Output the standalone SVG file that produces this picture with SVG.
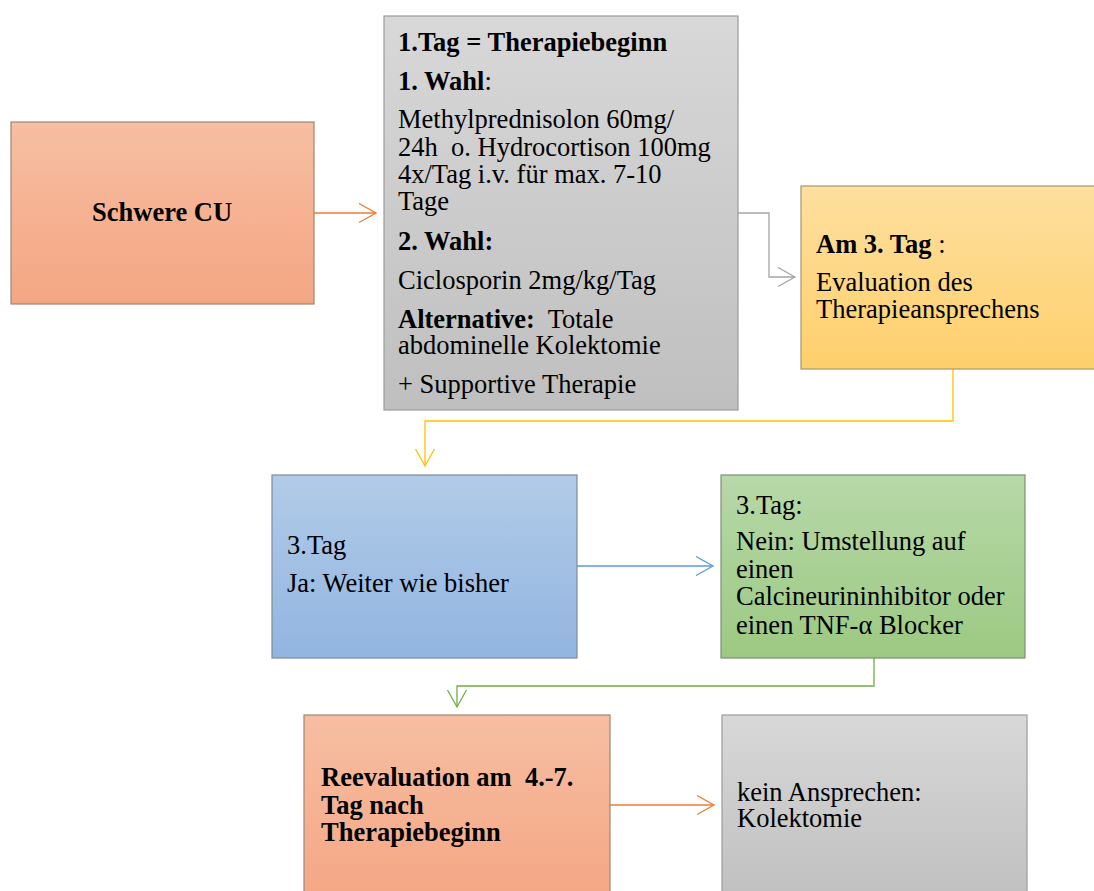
<svg xmlns="http://www.w3.org/2000/svg" width="1094" height="891" viewBox="0 0 1094 891">
<style>
text{font-family:"Liberation Serif","Times New Roman",serif;font-size:26.5px;fill:#000;white-space:pre}
.b{font-weight:bold}
.box{stroke-width:1.2}
.c{fill:none;stroke-width:1.3}
</style>
<defs>
<linearGradient id="gSalmon" x1="0" y1="0" x2="0" y2="1"><stop offset="0" stop-color="#f7bea2"/><stop offset="1" stop-color="#f4a683"/></linearGradient>
<linearGradient id="gGray" x1="0" y1="0" x2="0" y2="1"><stop offset="0" stop-color="#d8d8d8"/><stop offset="1" stop-color="#bfbfbf"/></linearGradient>
<linearGradient id="gGold" x1="0" y1="0" x2="0" y2="1"><stop offset="0" stop-color="#fedf9f"/><stop offset="1" stop-color="#fed06c"/></linearGradient>
<linearGradient id="gBlue" x1="0" y1="0" x2="0" y2="1"><stop offset="0" stop-color="#b2cbe8"/><stop offset="1" stop-color="#91b5e0"/></linearGradient>
<linearGradient id="gGreen" x1="0" y1="0" x2="0" y2="1"><stop offset="0" stop-color="#b7d8a8"/><stop offset="1" stop-color="#9cc982"/></linearGradient>
<marker id="aOrange" markerUnits="userSpaceOnUse" markerWidth="20" markerHeight="22" refX="18" refY="10.5" orient="auto"><path d="M1,1 L18,10.5 L1,20" fill="none" stroke="#ed7d31" stroke-width="1.3"/></marker>
<marker id="aGray" markerUnits="userSpaceOnUse" markerWidth="20" markerHeight="22" refX="18" refY="10.5" orient="auto"><path d="M1,1 L18,10.5 L1,20" fill="none" stroke="#a5a5a5" stroke-width="1.3"/></marker>
<marker id="aYellow" markerUnits="userSpaceOnUse" markerWidth="20" markerHeight="22" refX="18" refY="10.5" orient="auto"><path d="M1,1 L18,10.5 L1,20" fill="none" stroke="#ffc000" stroke-width="1.3"/></marker>
<marker id="aBlue" markerUnits="userSpaceOnUse" markerWidth="20" markerHeight="22" refX="18" refY="10.5" orient="auto"><path d="M1,1 L18,10.5 L1,20" fill="none" stroke="#5b9bd5" stroke-width="1.3"/></marker>
<marker id="aGreen" markerUnits="userSpaceOnUse" markerWidth="20" markerHeight="22" refX="18" refY="10.5" orient="auto"><path d="M1,1 L18,10.5 L1,20" fill="none" stroke="#70ad47" stroke-width="1.3"/></marker>
</defs>
<rect width="1094" height="891" fill="#fff"/>

<g id="connectors">
<path class="c" d="M314,213 H376" stroke="#ed7d31" marker-end="url(#aOrange)"/>
<path class="c" d="M738,213 H769 V277 H795" stroke="#a5a5a5" marker-end="url(#aGray)"/>
<path class="c" d="M953,369 V421 H425 V466" stroke="#ffc000" marker-end="url(#aYellow)"/>
<path class="c" d="M577,566 H713" stroke="#5b9bd5" marker-end="url(#aBlue)"/>
<path class="c" d="M874,658 V686 H457 V707" stroke="#70ad47" marker-end="url(#aGreen)"/>
<path class="c" d="M610,805 H714" stroke="#ed7d31" marker-end="url(#aOrange)"/>
</g>

<g id="schwere-cu">
<rect class="box" x="11" y="122" width="303" height="182" fill="url(#gSalmon)" stroke="#a08676"/>
<text class="b" x="92" y="221">Schwere CU</text>
</g>

<g id="therapiebeginn">
<rect class="box" x="384" y="16" width="354" height="394" fill="url(#gGray)" stroke="#9c9c9c"/>
<text class="b" x="398" y="51">1.Tag = Therapiebeginn</text>
<text x="398" y="90"><tspan class="b">1. Wahl</tspan>:</text>
<text x="398" y="128">Methylprednisolon 60mg/</text>
<text x="398" y="156">24h  o. Hydrocortison 100mg</text>
<text x="398" y="183">4x/Tag i.v. für max. 7-10</text>
<text x="398" y="210">Tage</text>
<text class="b" x="398" y="250">2. Wahl:</text>
<text x="398" y="289">Ciclosporin 2mg/kg/Tag</text>
<text x="398" y="328"><tspan class="b">Alternative:</tspan>  Totale</text>
<text x="398" y="354">abdominelle Kolektomie</text>
<text x="398" y="393">+ Supportive Therapie</text>
</g>

<g id="evaluation">
<rect class="box" x="801" y="186" width="300" height="183" fill="url(#gGold)" stroke="#a8946a"/>
<text x="816" y="253"><tspan class="b">Am 3. Tag</tspan> :</text>
<text x="816" y="291">Evaluation des</text>
<text x="816" y="318">Therapieansprechens</text>
</g>

<g id="ja">
<rect class="box" x="272" y="475" width="305" height="183" fill="url(#gBlue)" stroke="#7f8a98"/>
<text x="287" y="554">3.Tag</text>
<text x="287" y="592">Ja: Weiter wie bisher</text>
</g>

<g id="nein">
<rect class="box" x="721" y="475" width="304" height="183" fill="url(#gGreen)" stroke="#7e8f74"/>
<text x="736" y="514">3.Tag:</text>
<text x="736" y="550">Nein: Umstellung auf</text>
<text x="736" y="578">einen</text>
<text x="736" y="605">Calcineurininhibitor oder</text>
<text x="736" y="634">einen TNF-α Blocker</text>
</g>

<g id="reevaluation">
<rect class="box" x="304" y="715" width="306" height="190" fill="url(#gSalmon)" stroke="#a08676"/>
<text class="b" x="321" y="786">Reevaluation am  4.-7.</text>
<text class="b" x="321" y="814">Tag nach</text>
<text class="b" x="321" y="841">Therapiebeginn</text>
</g>

<g id="kolektomie">
<rect class="box" x="722" y="715" width="305" height="190" fill="url(#gGray)" stroke="#9c9c9c"/>
<text x="737" y="801">kein Ansprechen:</text>
<text x="737" y="827">Kolektomie</text>
</g>
</svg>
